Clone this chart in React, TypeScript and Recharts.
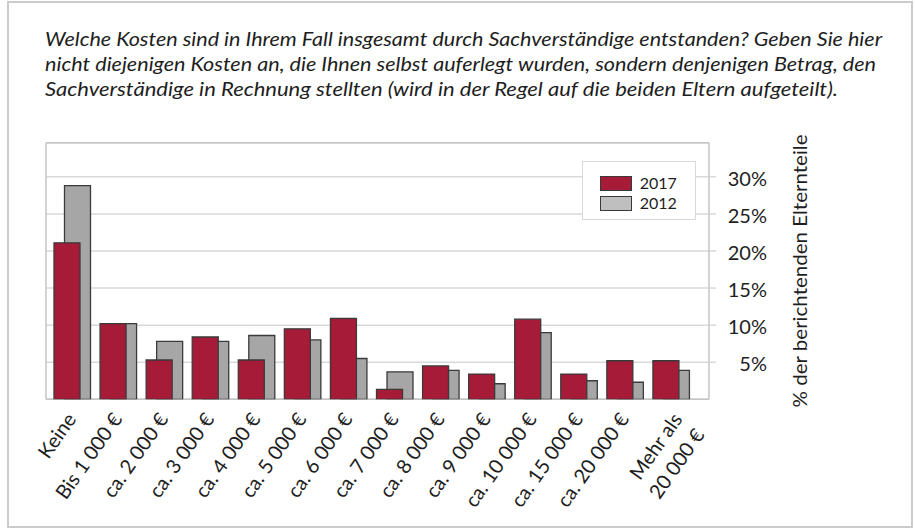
import React from "react";
import { BarChart, Bar, XAxis, YAxis, CartesianGrid, Legend } from "recharts";

const categories = [
  "Keine",
  "Bis 1 000 €",
  "ca. 2 000 €",
  "ca. 3 000 €",
  "ca. 4 000 €",
  "ca. 5 000 €",
  "ca. 6 000 €",
  "ca. 7 000 €",
  "ca. 8 000 €",
  "ca. 9 000 €",
  "ca. 10 000 €",
  "ca. 15 000 €",
  "ca. 20 000 €",
  "Mehr als\n20 000 €",
];
const values2017 = [21.1, 10.2, 5.3, 8.4, 5.3, 9.5, 10.9, 1.35, 4.5, 3.4, 10.8, 3.4, 5.2, 5.2];
const values2012 = [28.8, 10.2, 7.8, 7.8, 8.6, 8.0, 5.5, 3.7, 3.9, 2.1, 9.0, 2.5, 2.3, 3.9];
const yTicks = [5, 10, 15, 20, 25, 30];
const titleLines = [
  "Welche Kosten sind in Ihrem Fall insgesamt durch Sachverständige entstanden? Geben Sie hier",
  "nicht diejenigen Kosten an, die Ihnen selbst auferlegt wurden, sondern denjenigen Betrag, den",
  "Sachverständige in Rechnung stellten (wird in der Regel auf die beiden Eltern aufgeteilt).",
];
const yLabel = "% der berichtenden Elternteile";
const series = [
  { key: "v2017", name: "2017", fill: "#a51b38", swatch: "#a51b38" },
  { key: "v2012", name: "2012", fill: "#a6a6a6", swatch: "#bfbfbf" },
];

const data = categories.map((cat, i) => ({
  cat,
  v2017: values2017[i],
  v2012: values2012[i],
}));

const FONT = "Lato, 'Open Sans', sans-serif";
const TEXT = "#1e1e1e";
const GRID = "#d9d9d9";
const BORDER = "#c4c4c4";
const BAR_STROKE = "#3a3a3a";

function XTick(props: any) {
  const { x, y, payload } = props;
  const lines = String(payload.value).split("\n");
  const multi = lines.length > 1;
  return (
    <g transform={`translate(${x + 5},${y + 20}) rotate(-55)`}>
      <text textAnchor="end" fontFamily={FONT} fontSize={20} fill={TEXT}>
        {lines.map((l, i) => (
          <tspan key={i} x={multi ? 4 : 0} dy={i === 0 ? (multi ? 6 : 0) : 27}>
            {l}
          </tspan>
        ))}
      </text>
    </g>
  );
}

function YTick(props: any) {
  const { x, y, payload } = props;
  return (
    <text x={x + 49} y={y + 9} textAnchor="end" fontFamily={FONT} fontSize={20} fill={TEXT}>
      {`${payload.value}%`}
    </text>
  );
}

function YLabel(props: any) {
  const vb = props.viewBox || {};
  const cx = vb.x + 98;
  const cy = vb.y + vb.height / 2;
  return (
    <text
      x={cx}
      y={cy}
      transform={`rotate(-90,${cx},${cy})`}
      textAnchor="middle"
      fontFamily={FONT}
      fontSize={19.5}
      fill={TEXT}
      textLength={273}
      lengthAdjust="spacingAndGlyphs"
    >
      {yLabel}
    </text>
  );
}

function LegendBox() {
  return (
    <div
      style={{
        width: 114,
        height: 59,
        boxSizing: "border-box",
        border: `1.5px solid ${GRID}`,
        background: "#fff",
        paddingTop: 11,
        paddingLeft: 17,
      }}
    >
      {series.map((s) => (
        <div key={s.name} style={{ display: "flex", alignItems: "center", height: 20 }}>
          <div
            style={{
              width: 32,
              height: 15,
              boxSizing: "border-box",
              background: s.swatch,
              border: `1.5px solid ${BAR_STROKE}`,
              marginRight: 8,
            }}
          />
          <span style={{ fontFamily: FONT, fontSize: 16, color: TEXT, lineHeight: "20px" }}>{s.name}</span>
        </div>
      ))}
    </div>
  );
}

export default function App() {
  return (
    <div style={{ position: "absolute", left: 0, top: 0, width: 915, height: 528, background: "#fff" }}>
      <div
        style={{
          position: "absolute",
          left: 7,
          top: 1,
          width: 906,
          height: 527,
          boxSizing: "border-box",
          border: "2px solid #cccccc",
        }}
      />
      <svg style={{ position: "absolute", left: 0, top: 0 }} width={915} height={120}>
        {titleLines.map((t, i) => (
          <text
            key={i}
            x={45}
            y={46 + i * 25}
            fontFamily={FONT}
            fontStyle="italic"
            fontSize={19.5}
            fill={TEXT}
            textLength={[837, 831, 793][i]}
            lengthAdjust="spacingAndGlyphs"
          >
            {t}
          </text>
        ))}
      </svg>
      <div style={{ position: "absolute", left: 0, top: 0 }}>
        <BarChart
          width={915}
          height={528}
          data={data}
          margin={{ top: 142.7, right: 106, bottom: 98.7, left: 46 }}
          barSize={26}
          barGap={-15.5}
        >
          <CartesianGrid xAxisId="a" vertical={false} stroke={GRID} strokeWidth={1.5} />
          <CartesianGrid
            xAxisId="a"
            stroke={BORDER}
            strokeWidth={1.5}
            horizontalCoordinatesGenerator={(p: any) => [p.offset.top, p.offset.top + p.offset.height]}
            verticalCoordinatesGenerator={(p: any) => [p.offset.left, p.offset.left + p.offset.width]}
          />
          <XAxis
            xAxisId="a"
            dataKey="cat"
            interval={0}
            height={30}
            padding={{ left: 3, right: 15 }}
            tickLine={false}
            tickSize={0}
            tickMargin={0}
            axisLine={false}
            tick={<XTick />}
          />
          <XAxis xAxisId="b" dataKey="cat" hide padding={{ left: 3, right: 15 }} />
          <YAxis
            orientation="right"
            width={100}
            domain={[0, 34.6]}
            ticks={yTicks}
            allowDataOverflow
            axisLine={false}
            tickLine={{ stroke: GRID, strokeWidth: 1.5 }}
            tickSize={7}
            tickMargin={2}
            tick={<YTick />}
            label={<YLabel />}
          />
          <Legend
            layout="vertical"
            align="center"
            verticalAlign="middle"
            wrapperStyle={{ left: 581.7, top: 161, width: 114, height: 59 }}
            content={() => <LegendBox />}
          />
          <Bar xAxisId="b" dataKey="gapB" fill="none" legendType="none" isAnimationActive={false} />
          <Bar
            xAxisId="b"
            dataKey="v2012"
            name="2012"
            fill={series[1].fill}
            stroke={BAR_STROKE}
            strokeWidth={1.3}
            isAnimationActive={false}
          />
          <Bar
            xAxisId="a"
            dataKey="v2017"
            name="2017"
            fill={series[0].fill}
            stroke={BAR_STROKE}
            strokeWidth={1.3}
            isAnimationActive={false}
          />
          <Bar xAxisId="a" dataKey="gapA" fill="none" legendType="none" isAnimationActive={false} />
        </BarChart>
      </div>
    </div>
  );
}
